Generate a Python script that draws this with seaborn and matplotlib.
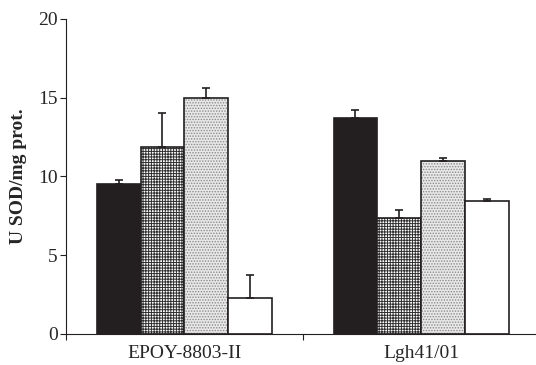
import numpy as np
import pandas as pd
import matplotlib
matplotlib.use("Agg")
import matplotlib.pyplot as plt
import seaborn as sns

# SOD activity per strain, four conditions per strain
strains = ["EPOY-8803-II", "Lgh41/01"]
conditions = ["c1", "c2", "c3", "c4"]
means = {
    "c1": [9.5, 13.7],
    "c2": [11.85, 7.35],
    "c3": [15.0, 11.0],
    "c4": [2.3, 8.45],
}
errors = {
    "c1": [0.3, 0.5],
    "c2": [2.15, 0.55],
    "c3": [0.6, 0.2],
    "c4": [1.45, 0.15],
}
y_ticks = [0, 5, 10, 15, 20]

sns.set_style("ticks")
plt.rcParams["font.family"] = ["Liberation Serif", "DejaVu Serif"]
plt.rcParams["hatch.linewidth"] = 0.7

rows = []
for c in conditions:
    for s, v in zip(strains, means[c]):
        rows.append({"strain": s, "condition": c, "value": v})
df = pd.DataFrame(rows)

fig = plt.figure(figsize=(5.36, 3.65), dpi=100)
ax = fig.add_axes([0.123, 0.085, 0.875, 0.863])

ink = "#231f20"
sns.barplot(data=df, x="strain", y="value", hue="condition",
            order=strains, hue_order=conditions, errorbar=None,
            width=0.74, gap=0, legend=False, ax=ax,
            palette=["white"] * 4, edgecolor=ink, linewidth=1.2,
            saturation=1)

styles = [
    dict(face=ink, hatch=None, hcolor=ink),
    dict(face="white", hatch="++++++", hcolor="#303030"),
    dict(face="#e8e8e8", hatch="......", hcolor="#8a8a8a"),
    dict(face="white", hatch=None, hcolor=ink),
]

for cont, c, st in zip(ax.containers, conditions, styles):
    xs, ys = [], []
    for bar in cont:
        bar.set_facecolor(st["face"])
        if st["hatch"]:
            bar.set_hatch(st["hatch"])
            bar._hatch_color = matplotlib.colors.to_rgba(st["hcolor"])
        xs.append(bar.get_x() + bar.get_width() / 2)
        ys.append(bar.get_height())
    err = np.array(errors[c])
    ax.errorbar(xs, ys, yerr=[np.zeros_like(err), err], fmt="none",
                ecolor=ink, elinewidth=1.2, capsize=3, capthick=1.2,
                zorder=5)

ax.set_ylim(0, 20)
ax.set_yticks(y_ticks)
ax.set_xlim(-0.5, 1.48)
ax.set_xticks([0, 1])
ax.set_xticklabels(strains)
ax.set_xticks([-0.5, 0.5], minor=True)
ax.tick_params(axis="x", which="major", length=0, pad=8, labelsize=14)
ax.tick_params(axis="x", which="minor", length=4, width=0.8, color=ink)
ax.tick_params(axis="y", length=4, width=0.8, color=ink, labelsize=14, pad=2)
ax.set_xlabel("")
ax.set_ylabel("U SOD/mg prot.", fontsize=14, fontweight="bold", labelpad=8)
sns.despine(ax=ax)
for sp in ("left", "bottom"):
    ax.spines[sp].set_linewidth(0.8)
    ax.spines[sp].set_color(ink)

fig.savefig("out.png", dpi=100)
